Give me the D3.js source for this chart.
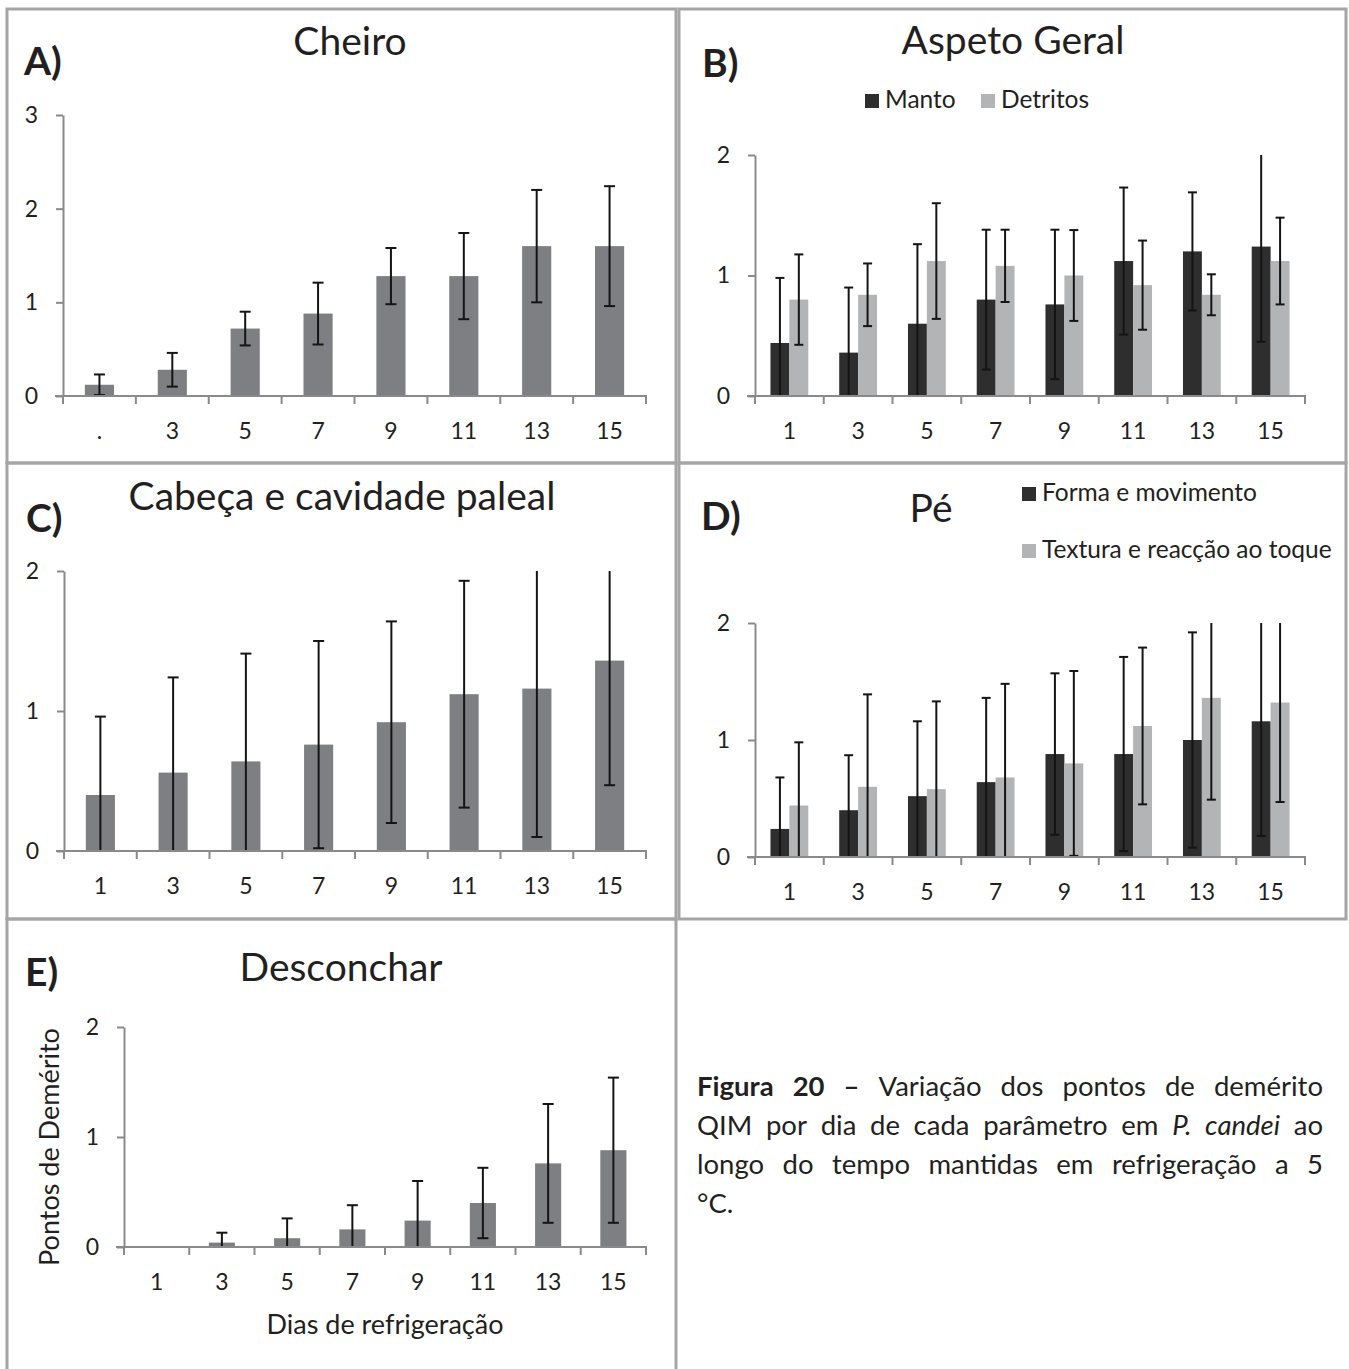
<!DOCTYPE html>
<html>
<head>
<meta charset="utf-8">
<script src="https://cdn.jsdelivr.net/npm/d3@7"></script>
<style>
  body { margin: 0; background: #fff; }
  svg { display: block; font-family: Lato, "Open Sans", sans-serif; }
</style>
</head>
<body>
<svg id="fig" width="1349" height="1369"></svg>
<script>
// Days of refrigeration (x categories)
const days = ["1", "3", "5", "7", "9", "11", "13", "15"];
const cheiroDayLabels = [".", "3", "5", "7", "9", "11", "13", "15"];

// Mean demerit points and standard deviations per parameter
const cheiroMean = [0.12, 0.28, 0.72, 0.88, 1.28, 1.28, 1.60, 1.60];
const cheiroSd   = [0.11, 0.18, 0.18, 0.33, 0.30, 0.46, 0.60, 0.64];

const mantoMean    = [0.44, 0.36, 0.60, 0.80, 0.76, 1.12, 1.20, 1.24];
const mantoSd      = [0.54, 0.54, 0.66, 0.58, 0.62, 0.61, 0.49, 0.79];
const detritosMean = [0.80, 0.84, 1.12, 1.08, 1.00, 0.92, 0.84, 1.12];
const detritosSd   = [0.375, 0.26, 0.48, 0.30, 0.377, 0.37, 0.17, 0.36];

const cabecaMean = [0.40, 0.56, 0.64, 0.76, 0.92, 1.12, 1.16, 1.36];
const cabecaSd   = [0.56, 0.68, 0.77, 0.74, 0.72, 0.81, 1.06, 0.89];

const formaMean   = [0.24, 0.40, 0.52, 0.64, 0.88, 0.88, 1.00, 1.16];
const formaSd     = [0.44, 0.47, 0.64, 0.72, 0.69, 0.83, 0.92, 0.98];
const texturaMean = [0.44, 0.60, 0.58, 0.68, 0.80, 1.12, 1.36, 1.32];
const texturaSd   = [0.54, 0.79, 0.75, 0.80, 0.79, 0.67, 0.87, 0.85];

const desconcharMean = [0, 0.04, 0.08, 0.16, 0.24, 0.40, 0.76, 0.88];
const desconcharSd   = [0, 0.09, 0.18, 0.22, 0.36, 0.32, 0.54, 0.66];

// Tick values
const yTicks3 = [0, 1, 2, 3];
const yTicks2 = [0, 1, 2];

const INK = "#231f20";
const AXIS = "#8a8a8a";
const GREY = "#7e7f83";
const DARK = "#2f2e2f";
const LIGHT = "#b3b4b6";

const svg = d3.select("#fig");

// Panel frames
const frames = [
  [7, 9, 669, 454], [679, 9, 667, 454],
  [7, 463, 669, 456], [679, 463, 667, 456],
  [7, 919, 669, 470]
];
svg.append("g").selectAll("rect").data(frames).join("rect")
  .attr("x", d => d[0]).attr("y", d => d[1])
  .attr("width", d => d[2]).attr("height", d => d[3])
  .attr("fill", "none").attr("stroke", "#a5a5a5").attr("stroke-width", 3);

function drawPanel(cfg) {
  const g = svg.append("g");
  const x = d3.scaleBand().domain(d3.range(cfg.labels.length)).range([cfg.x0, cfg.x1]);
  const y = d3.scaleLinear().domain([0, cfg.yMax]).range([cfg.yBase, cfg.yTop]);

  // y axis
  const ya = g.append("g").attr("transform", `translate(${cfg.x0},0)`)
    .call(d3.axisLeft(y).tickValues(cfg.yTicks).tickSize(7).tickSizeOuter(0)
      .tickPadding(18).tickFormat(d3.format("d")));
  ya.select(".domain").attr("stroke", AXIS).attr("stroke-width", 2);
  ya.selectAll(".tick line").attr("stroke", AXIS).attr("stroke-width", 2);
  ya.selectAll(".tick text").attr("fill", INK).style("font-size", "23px")
    .style("font-family", "Lato, sans-serif");

  // bars
  const n = cfg.series.length;
  const frac = n === 1 ? 0.40 : 0.275;
  const bw = x.step() * frac;
  const cap = n === 1 ? 11 : 9;
  cfg.series.forEach((s, si) => {
    const off = n === 1 ? -bw / 2 : (si - n / 2) * bw;
    const data = s.mean.map((m, i) => ({ i, m, sd: s.sd[i] }));
    g.append("g").selectAll("rect").data(data).join("rect")
      .attr("x", d => x(d.i) + x.bandwidth() / 2 + off)
      .attr("y", d => y(d.m))
      .attr("width", bw)
      .attr("height", d => y(0) - y(d.m))
      .attr("fill", s.color);
    const eb = g.append("g").attr("stroke", "#141414").attr("stroke-width", 2);
    data.filter(d => d.sd > 0).forEach(d => {
      const cx = x(d.i) + x.bandwidth() / 2 + off + bw / 2;
      const hi = Math.min(d.m + d.sd, cfg.yMax);
      const lo = Math.max(d.m - d.sd, 0);
      eb.append("line").attr("x1", cx).attr("x2", cx).attr("y1", y(hi)).attr("y2", y(lo));
      if (d.m + d.sd <= cfg.yMax)
        eb.append("line").attr("x1", cx - cap / 2).attr("x2", cx + cap / 2).attr("y1", y(hi)).attr("y2", y(hi));
      if (d.m - d.sd >= 0)
        eb.append("line").attr("x1", cx - cap / 2).attr("x2", cx + cap / 2).attr("y1", y(lo)).attr("y2", y(lo));
    });
  });

  // x axis: baseline, boundary ticks and day labels
  const xa = g.append("g").attr("stroke", AXIS).attr("stroke-width", 2);
  xa.append("line").attr("x1", cfg.x0 - 8).attr("x2", cfg.x1 + 1).attr("y1", y(0)).attr("y2", y(0));
  d3.range(cfg.labels.length + 1).forEach(k => {
    const tx = cfg.x0 + k * x.step();
    xa.append("line").attr("x1", tx).attr("x2", tx).attr("y1", y(0)).attr("y2", y(0) + 8);
  });
  g.append("g").selectAll("text").data(cfg.labels).join("text")
    .attr("x", (d, i) => x(i) + x.bandwidth() / 2)
    .attr("y", y(0) + 43)
    .attr("text-anchor", "middle").attr("fill", INK)
    .style("font-size", "23px").text(d => d);

  // title and panel letter
  g.append("text").attr("x", cfg.titleX).attr("y", cfg.titleY).attr("text-anchor", "middle")
    .attr("fill", INK).style("font-size", "39px").text(cfg.title);
  g.append("text").attr("x", cfg.letterX).attr("y", cfg.letterY)
    .attr("fill", INK).style("font-size", "39px").style("font-weight", "bold").text(cfg.letter);

  // legend
  if (cfg.legend) {
    cfg.legend.forEach((L, k) => {
      const it = cfg.series[k];
      g.append("rect").attr("x", L[0]).attr("y", L[1] - 14).attr("width", 14).attr("height", 14)
        .attr("fill", it.color);
      g.append("text").attr("x", L[0] + 20).attr("y", L[1]).attr("fill", INK)
        .style("font-size", "24.5px").text(it.name);
    });
  }
  return { x, y };
}

drawPanel({
  x0: 63, x1: 646, yBase: 396, yTop: 115, yMax: 3, yTicks: yTicks3,
  labels: cheiroDayLabels,
  series: [{ name: "Cheiro", mean: cheiroMean, sd: cheiroSd, color: GREY }],
  title: "Cheiro", titleX: 350, titleY: 55, letter: "A)", letterX: 24, letterY: 75
});

drawPanel({
  x0: 755, x1: 1305, yBase: 396, yTop: 155, yMax: 2, yTicks: yTicks2,
  labels: days,
  series: [
    { name: "Manto", mean: mantoMean, sd: mantoSd, color: DARK },
    { name: "Detritos", mean: detritosMean, sd: detritosSd, color: LIGHT }
  ],
  legend: [[865, 108], [981, 108]],
  title: "Aspeto Geral", titleX: 1013, titleY: 54, letter: "B)", letterX: 702, letterY: 77
});

drawPanel({
  x0: 64, x1: 646, yBase: 851, yTop: 571, yMax: 2, yTicks: yTicks2,
  labels: days,
  series: [{ name: "Cabeça", mean: cabecaMean, sd: cabecaSd, color: GREY }],
  title: "Cabeça e cavidade paleal", titleX: 342, titleY: 510, letter: "C)", letterX: 26, letterY: 532
});

drawPanel({
  x0: 755, x1: 1305, yBase: 857, yTop: 623, yMax: 2, yTicks: yTicks2,
  labels: days,
  series: [
    { name: "Forma e movimento", mean: formaMean, sd: formaSd, color: DARK },
    { name: "Textura e reacção ao toque", mean: texturaMean, sd: texturaSd, color: LIGHT }
  ],
  legend: [[1022, 501], [1022, 558]],
  title: "Pé", titleX: 931, titleY: 522, letter: "D)", letterX: 701, letterY: 530
});

drawPanel({
  x0: 124, x1: 646, yBase: 1247, yTop: 1027, yMax: 2, yTicks: yTicks2,
  labels: days,
  series: [{ name: "Desconchar", mean: desconcharMean, sd: desconcharSd, color: GREY }],
  title: "Desconchar", titleX: 341, titleY: 981, letter: "E)", letterX: 25, letterY: 986
});

// Axis titles of panel E
svg.append("text").attr("transform", "translate(59,1147) rotate(-90)")
  .attr("text-anchor", "middle").attr("fill", INK).style("font-size", "27px")
  .text("Pontos de Demérito");
svg.append("text").attr("x", 385).attr("y", 1334).attr("text-anchor", "middle")
  .attr("fill", INK).style("font-size", "27px").text("Dias de refrigeração");

// Figure caption, justified between two margins
const capLines = [
  { words: [["Figura", "b"], ["20", "b"], ["–", "b"], ["Variação"], ["dos"], ["pontos"], ["de"], ["demérito"]], justify: true },
  { words: [["QIM"], ["por"], ["dia"], ["de"], ["cada"], ["parâmetro"], ["em"], ["P.", "i"], ["candei", "i"], ["ao"]], justify: true },
  { words: [["longo"], ["do"], ["tempo"], ["mantidas"], ["em"], ["refrigeração"], ["a"], ["5"]], justify: true },
  { words: [["°C."]], justify: false }
];
const capLeft = 697, capRight = 1323, capTop = 1096, capLead = 39;
const capG = svg.append("g").attr("fill", INK).style("font-size", "27.5px");
capLines.forEach((line, li) => {
  const nodes = line.words.map(w => capG.append("text")
    .attr("y", capTop + li * capLead)
    .style("font-weight", w[1] === "b" ? "bold" : "normal")
    .style("font-style", w[1] === "i" ? "italic" : "normal")
    .text(w[0]));
  const widths = nodes.map(t => t.node().getComputedTextLength());
  const total = d3.sum(widths);
  const gap = line.justify && nodes.length > 1 ? (capRight - capLeft - total) / (nodes.length - 1) : 6;
  let cx = capLeft;
  nodes.forEach((t, k) => { t.attr("x", cx); cx += widths[k] + gap; });
});
</script>
</body>
</html>
